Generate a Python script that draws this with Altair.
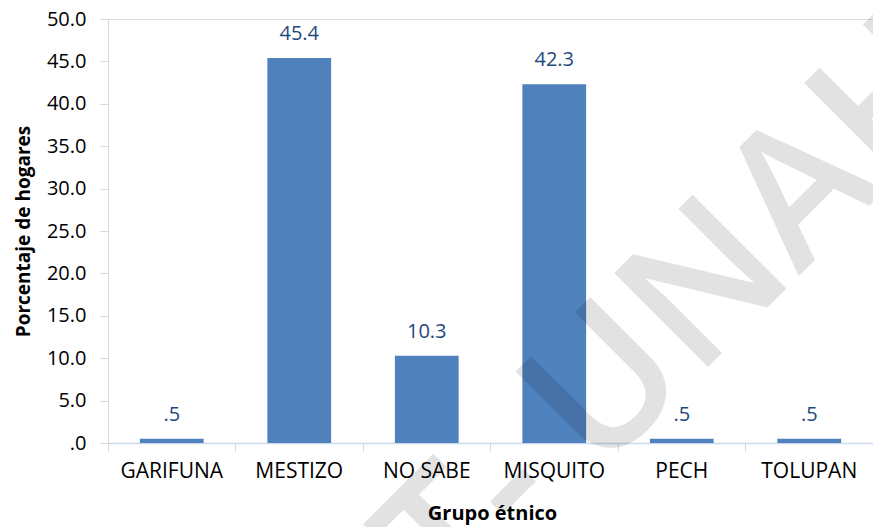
import altair as alt
import pandas as pd

categorias = ["GARIFUNA", "MESTIZO", "NO SABE", "MISQUITO", "PECH", "TOLUPAN"]
porcentajes = [0.5, 45.4, 10.3, 42.3, 0.5, 0.5]
y_ticks = [0, 5, 10, 15, 20, 25, 30, 35, 40, 45, 50]


def etiqueta(v):
    s = f"{v:.1f}"
    return s[1:] if s.startswith("0") else s


df = pd.DataFrame({
    "grupo": categorias,
    "pct": porcentajes,
    "etiqueta": [etiqueta(v) for v in porcentajes],
})

FONT = "Open Sans"

x_enc = alt.X(
    "grupo:N",
    sort=categorias,
    scale=alt.Scale(paddingInner=0, paddingOuter=0),
    axis=alt.Axis(
        title="Grupo étnico",
        labelAngle=0,
        labelFont=FONT,
        labelFontSize=21,
        labelColor="#000000",
        labelPadding=9,
        bandPosition=0,
        tickSize=8,
        tickColor="#C9DAEE",
        domainColor="#C9DAEE",
        domainWidth=1.5,
        titleFont=FONT,
        titleFontSize=20,
        titleFontWeight="bold",
        titleColor="#000000",
        titleX=384,
        titleY=76,
        titleBaseline="alphabetic",
        titleAnchor="middle",
        grid=False,
    ),
)

y_enc = alt.Y(
    "pct:Q",
    scale=alt.Scale(domain=[0, 50], nice=False),
    axis=alt.Axis(
        title="Porcentaje de hogares",
        values=y_ticks,
        labelExpr="datum.value == 0 ? '.0' : format(datum.value, '.1f')",
        labelFont=FONT,
        labelFontSize=20,
        labelColor="#000000",
        labelPadding=14,
        tickSize=8,
        tickColor="#D9D9D9",
        domainColor="#D9D9D9",
        titleFont=FONT,
        titleFontSize=19,
        titleFontWeight="bold",
        titleColor="#000000",
        titleAngle=270,
        titleX=-79,
        titleY=212,
        titleBaseline="alphabetic",
        titleAlign="center",
        grid=False,
    ),
)

base = alt.Chart(df).encode(x=x_enc, y=y_enc)

bars = base.mark_bar(width=alt.RelativeBandSize(0.5), color="#4F81BD")

labels = base.mark_text(
    font=FONT, fontSize=20, color="#1F497D", baseline="alphabetic", dy=-18
).encode(text="etiqueta:N")


def marca_agua(texto, px, py):
    return alt.Chart(pd.DataFrame({"t": [texto]})).mark_text(
        font=FONT, fontSize=186, fontWeight=600, color="#000000", opacity=0.11,
        align="left", baseline="alphabetic", angle=315,
    ).encode(text="t:N", x=alt.value(px), y=alt.value(py))


marca_unah = marca_agua("UNAH", 490, 458)
marca_t = marca_agua("T", 347, 601)
marca_guion = marca_agua("-", 419, 529)

chart = alt.layer(bars, labels, marca_unah, marca_t, marca_guion).properties(
    width=765,
    height=424,
    autosize=alt.AutoSizeParams(type="none"),
    padding={"left": 108, "top": 19, "right": 0, "bottom": 84},
).configure_view(stroke=None).configure(background="white")

chart.save("out.html", embed_options={"renderer": "svg", "actions": False})
